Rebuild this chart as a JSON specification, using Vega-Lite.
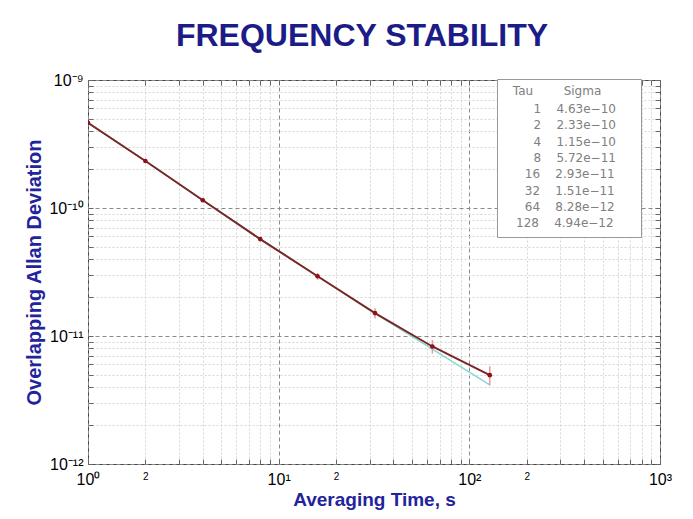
{
  "$schema": "https://vega.github.io/schema/vega-lite/v6.json",
  "width": 572,
  "height": 384,
  "padding": {"left": 24, "top": 20, "right": 5, "bottom": 5},
  "autosize": {"type": "pad"},
  "background": "white",
  "title": {"text": "FREQUENCY STABILITY", "fontSize": 32, "font": "Liberation Sans", "fontWeight": "bold", "color": "#1c1c88", "anchor": "middle", "offset": 19, "dx": -12},
  "config": {"view": {"stroke": "#444", "strokeWidth": 1}},
  "datasets": {
    "adev": [
      {"tau": 1, "sigma": 4.63e-10, "lo": 4.59e-10, "hi": 4.67e-10, "entry": "\u2800\u28001\u2007\u20074.63e\u221210\u2800\u2800"},
      {"tau": 2, "sigma": 2.33e-10, "lo": 2.28e-10, "hi": 2.38e-10, "entry": "\u2800\u28002\u2007\u20072.33e\u221210\u2800\u2800"},
      {"tau": 4, "sigma": 1.15e-10, "lo": 1.115e-10, "hi": 1.185e-10, "entry": "\u2800\u28004\u2007\u20071.15e\u221210\u2800\u2800"},
      {"tau": 8, "sigma": 5.72e-11, "lo": 5.49e-11, "hi": 5.95e-11, "entry": "\u2800\u28008\u2007\u20075.72e\u221211\u2800\u2800"},
      {"tau": 16, "sigma": 2.93e-11, "lo": 2.75e-11, "hi": 3.11e-11, "entry": "\u280016\u2007\u20072.93e\u221211\u2800\u2800"},
      {"tau": 32, "sigma": 1.51e-11, "lo": 1.37e-11, "hi": 1.65e-11, "entry": "\u280032\u2007\u20071.51e\u221211\u2800\u2800"},
      {"tau": 64, "sigma": 8.28e-12, "lo": 7.3e-12, "hi": 9.3e-12, "entry": "\u280064\u2007\u20078.28e\u221212\u2800\u2800"},
      {"tau": 128, "sigma": 4.94e-12, "lo": 4.1e-12, "hi": 5.8e-12, "entry": "128\u2007\u20074.94e\u221212\u2800\u2800"}
    ],
    "fit": [
      {"tau": 1, "sigma": 4.63e-10},
      {"tau": 2, "sigma": 2.33e-10},
      {"tau": 4, "sigma": 1.15e-10},
      {"tau": 8, "sigma": 5.72e-11},
      {"tau": 16, "sigma": 2.93e-11},
      {"tau": 32, "sigma": 1.5e-11},
      {"tau": 64, "sigma": 7.9e-12},
      {"tau": 128, "sigma": 4.15e-12}
    ]
  },
  "layer": [
    {
      "data": {"name": "fit"},
      "mark": {"type": "line", "color": "#86d9d2", "strokeWidth": 1.5, "clip": true},
      "encoding": {
        "x": {"field": "tau", "type": "quantitative", "scale": {"type": "log", "domain": [1, 1000], "nice": false},
          "axis": {"orient": "top", "values": [1,2,3,4,5,6,7,8,9,10,20,30,40,50,60,70,80,90,100,200,300,400,500,600,700,800,900,1000], "labels": false, "grid": false, "domain": false, "ticks": true, "tickSize": -5, "tickColor": "#666", "title": null}},
        "y": {"field": "sigma", "type": "quantitative", "scale": {"type": "log", "domain": [1e-12, 1e-9], "nice": false},
          "axis": {"orient": "right", "values": [1e-12,2e-12,3e-12,4e-12,5e-12,6e-12,7e-12,8e-12,9e-12,1e-11,2e-11,3e-11,4e-11,5e-11,6e-11,7e-11,8e-11,9e-11,1e-10,2e-10,3e-10,4e-10,5e-10,6e-10,7e-10,8e-10,9e-10,1e-9], "labels": false, "grid": false, "domain": false, "ticks": true, "tickSize": -5, "tickColor": "#666", "title": null}}
      }
    },
    {
      "data": {"name": "adev"},
      "mark": {"type": "rule", "color": "#ee9a9a", "strokeWidth": 1.5, "clip": true},
      "encoding": {
        "x": {"field": "tau", "type": "quantitative", "axis": null},
        "y": {"field": "lo", "type": "quantitative", "axis": null},
        "y2": {"field": "hi"}
      }
    },
    {
      "data": {"name": "adev"},
      "mark": {"type": "line", "color": "#7a2626", "strokeWidth": 2, "clip": true},
      "encoding": {
        "x": {"field": "tau", "type": "quantitative",
          "axis": {"orient": "bottom", "values": [1,2,3,4,5,6,7,8,9,10,20,30,40,50,60,70,80,90,100,200,300,400,500,600,700,800,900,1000],
            "labelExpr": "abs(log(datum.value)/LN10 - round(log(datum.value)/LN10)) < 0.001 ? '10' + ['\u2070','\u00b9','\u00b2','\u00b3'][round(log(datum.value)/LN10)] : (abs(datum.value / pow(10, floor(log(datum.value)/LN10 + 1e-9)) - 2) < 0.001 ? '2' : '')",
            "labelFontSize": {"condition": {"test": "abs(log(datum.value)/LN10 - round(log(datum.value)/LN10)) < 0.001", "value": 16}, "value": 10},
            "labelFont": "Liberation Sans", "labelColor": "black", "labelPadding": 12, "labelFlush": false, "labelOverlap": false,
            "grid": true,
            "gridColor": {"condition": {"test": "abs(log(datum.value)/LN10 - round(log(datum.value)/LN10)) < 0.001", "value": "#8a8a8a"}, "value": "#d6d6d6"},
            "gridDash": {"condition": {"test": "abs(log(datum.value)/LN10 - round(log(datum.value)/LN10)) < 0.001", "value": [4, 3]}, "value": [2, 2]},
            "domain": false, "ticks": true, "tickSize": -5, "tickColor": "#666",
            "title": "Averaging Time, s", "titleFont": "Liberation Sans", "titleFontSize": 19, "titleFontWeight": "bold", "titleColor": "#23239b", "titlePadding": 3}},
        "y": {"field": "sigma", "type": "quantitative",
          "axis": {"orient": "left", "values": [1e-12,2e-12,3e-12,4e-12,5e-12,6e-12,7e-12,8e-12,9e-12,1e-11,2e-11,3e-11,4e-11,5e-11,6e-11,7e-11,8e-11,9e-11,1e-10,2e-10,3e-10,4e-10,5e-10,6e-10,7e-10,8e-10,9e-10,1e-9],
            "labelExpr": "abs(log(datum.value)/LN10 - round(log(datum.value)/LN10)) < 0.001 ? '10\u207b' + ['\u2079','\u00b9\u2070','\u00b9\u00b9','\u00b9\u00b2'][-9 - round(log(datum.value)/LN10)] : ''",
            "labelFontSize": 16, "labelFont": "Liberation Sans", "labelColor": "black", "labelPadding": 10, "labelFlush": false, "labelOverlap": false,
            "grid": true,
            "gridColor": {"condition": {"test": "abs(log(datum.value)/LN10 - round(log(datum.value)/LN10)) < 0.001", "value": "#8a8a8a"}, "value": "#d6d6d6"},
            "gridDash": {"condition": {"test": "abs(log(datum.value)/LN10 - round(log(datum.value)/LN10)) < 0.001", "value": [4, 3]}, "value": [2, 2]},
            "domain": false, "ticks": true, "tickSize": -5, "tickColor": "#666",
            "title": "Overlapping Allan Deviation", "titleFont": "Liberation Sans", "titleFontSize": 20, "titleFontWeight": "bold", "titleColor": "#23239b", "titlePadding": 4}}
      }
    },
    {
      "data": {"name": "adev"},
      "mark": {"type": "point", "filled": true, "size": 22, "opacity": 1, "clip": true},
      "encoding": {
        "x": {"field": "tau", "type": "quantitative", "axis": null},
        "y": {"field": "sigma", "type": "quantitative", "axis": null},
        "color": {"field": "entry", "type": "nominal", "sort": {"field": "tau", "op": "min"}, "scale": {"range": ["#8b1414"]},
          "legend": {"orient": "none", "legendX": 409, "legendY": -1,
            "title": "\u2800Tau\u2007\u2007\u2007\u2007Sigma",
            "titleFont": "DejaVu Sans", "titleFontSize": 12, "titleFontWeight": "normal", "titleColor": "#808080", "titlePadding": 5,
            "labelFont": "DejaVu Sans", "labelFontSize": 12, "labelColor": "#808080", "labelLimit": 400, "labelOffset": 0,
            "symbolSize": 64, "symbolOpacity": 0, "symbolStrokeWidth": 0, "symbolType": "circle",
            "rowPadding": 4.3, "padding": 7, "strokeColor": "#999", "fillColor": "white", "cornerRadius": 0}}
      }
    }
  ],
  "resolve": {"axis": {"x": "independent", "y": "independent"}}
}
